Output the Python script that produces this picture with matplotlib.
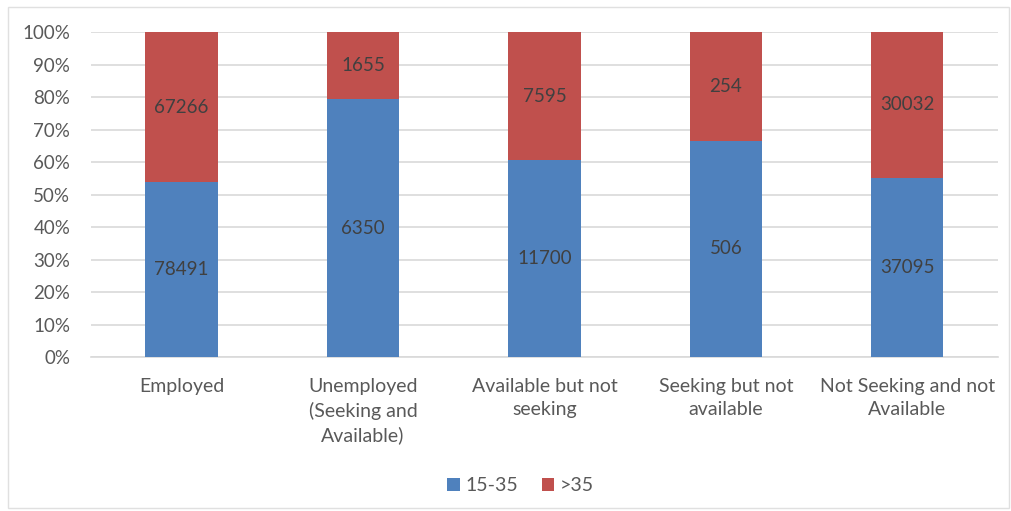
import numpy as np
import matplotlib.pyplot as plt
from matplotlib.patches import Rectangle
from matplotlib.ticker import PercentFormatter

plt.rcParams['font.family'] = ['Lato', 'DejaVu Sans']

categories = ['Employed', 'Unemployed\n(Seeking and\nAvailable)', 'Available but not\nseeking',
              'Seeking but not\navailable', 'Not Seeking and not\nAvailable']
young = [78491, 6350, 11700, 506, 37095]   # 15-35
older = [67266, 1655, 7595, 254, 30032]    # >35

young = np.array(young, dtype=float)
older = np.array(older, dtype=float)
total = young + older
p_young = young / total * 100
p_older = older / total * 100

blue = '#4F81BD'
red = '#C0504D'
txt = '#595959'

fig = plt.figure(figsize=(10.11, 5.11), dpi=100)
ax = fig.add_axes([0.090, 0.301, 0.897, 0.636])

x = np.arange(len(categories))
ax.bar(x, p_young, width=0.4, color=blue, label='15-35', zorder=3)
ax.bar(x, p_older, width=0.4, bottom=p_young, color=red, label='>35', zorder=3)

# value labels in the middle of each segment
for i in range(len(x)):
    ax.text(x[i], p_young[i] / 2, f'{int(young[i])}', ha='center', va='center',
            fontsize=13.5, color='#404040', zorder=4)
    ax.text(x[i], p_young[i] + p_older[i] / 2, f'{int(older[i])}', ha='center', va='center',
            fontsize=13.5, color='#404040', zorder=4)

ax.set_xlim(-0.5, len(x) - 0.5)
ax.set_ylim(0, 100)
ax.set_yticks(np.arange(0, 101, 10))
ax.yaxis.set_major_formatter(PercentFormatter(decimals=0))
ax.set_xticks(x)
ax.set_xticklabels(categories, fontsize=14, color=txt, linespacing=1.45)
ax.tick_params(axis='y', labelsize=13.5, labelcolor=txt, length=0, pad=15)
ax.tick_params(axis='x', length=0, pad=15)
ax.grid(axis='y', color='#D9D9D9', linewidth=1.2, zorder=0)
for s in ['top', 'right', 'left']:
    ax.spines[s].set_visible(False)
ax.spines['bottom'].set_color('#D9D9D9')
ax.spines['bottom'].set_linewidth(1.2)

leg = fig.legend(loc='center', bbox_to_anchor=(0.515, 0.05), ncol=2, frameon=False,
                 fontsize=14, handlelength=0.65, handleheight=0.65, handletextpad=0.3,
                 columnspacing=1.2, labelcolor=txt)

# outer chart border
fig.add_artist(Rectangle((0.008, 0.006), 0.99, 0.98, transform=fig.transFigure,
                         fill=False, edgecolor='#E0E0E0', linewidth=1.0))

fig.savefig('out.png', dpi=100, facecolor='white')
